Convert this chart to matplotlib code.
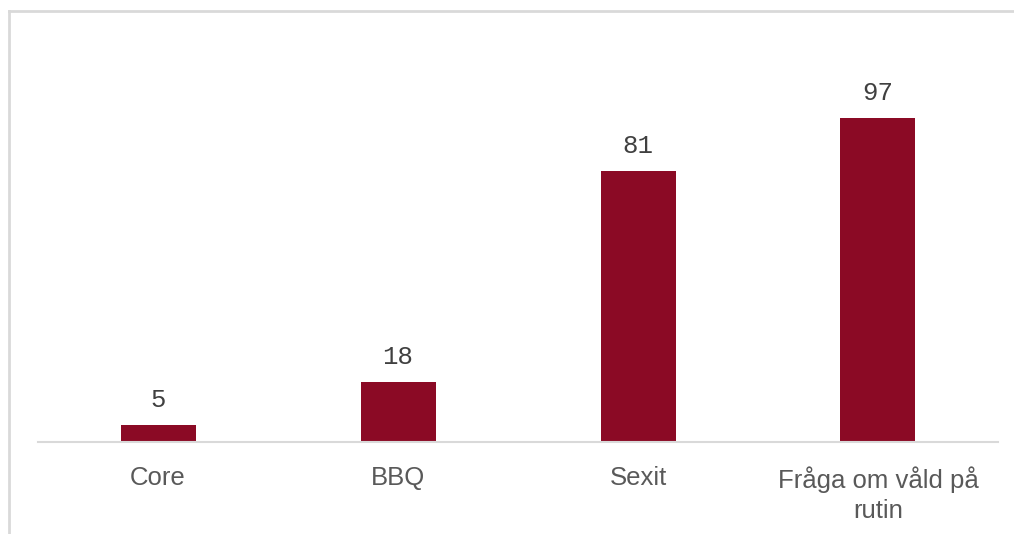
import matplotlib
matplotlib.use("Agg")
import matplotlib.pyplot as plt
from matplotlib.lines import Line2D

categories = ["Core", "BBQ", "Sexit", "Fråga om våld på\nrutin"]
values = [5, 18, 81, 97]

bar_color = "#8B0A25"
W, H = 1014, 534

fig = plt.figure(figsize=(W / 100, H / 100), dpi=100)
ax = fig.add_axes([38 / W, 1 - 442 / H, 960 / W, 401 / H])

x = range(len(categories))
ax.bar(x, values, width=0.3125, color=bar_color)

for xi, v in zip(x, values):
    ax.annotate(str(v), (xi, v), xytext=(0, 13), textcoords="offset points",
                ha="center", va="baseline", fontsize=18.5, color="#404040",
                family="Liberation Mono")

ax.set_xlim(-0.5, len(categories) - 0.5)
ax.set_ylim(0, 120)
ax.set_xticks(list(x))
ax.set_xticklabels(categories, fontsize=18.5, color="#595959",
                   family="Liberation Sans", linespacing=1.3)
ax.tick_params(axis="x", length=0, pad=17.5)
ax.set_yticks([])
for side in ["left", "right", "top"]:
    ax.spines[side].set_visible(False)
ax.spines["bottom"].set_color("#D9D9D9")
ax.spines["bottom"].set_linewidth(1.5)

# outer chart frame (top and left edges)
frame = dict(transform=fig.transFigure, color="#D9D9D9", linewidth=2)
fig.lines.append(Line2D([8.5 / W, 1.01], [1 - 10.5 / H] * 2, **frame))
fig.lines.append(Line2D([8.5 / W] * 2, [-0.01, 1 - 10.5 / H], **frame))

fig.savefig("out.png", dpi=100)
